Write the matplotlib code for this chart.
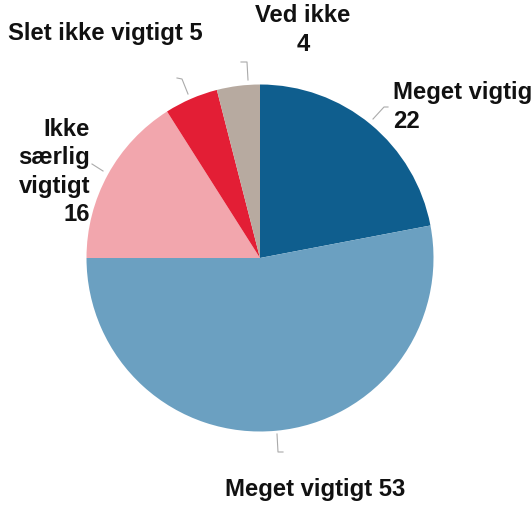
import matplotlib
matplotlib.use("Agg")
import matplotlib.pyplot as plt

plt.rcParams["font.family"] = ["Liberation Sans", "DejaVu Sans"]

# answers, clockwise from 12 o'clock
categories = ["Meget vigtig", "Meget vigtigt", "Ikke særlig vigtigt", "Slet ikke vigtigt", "Ved ikke"]
values = [22, 53, 16, 5, 4]
colors = ["#0f5e8e", "#6ba0c1", "#f2a6ad", "#e31e35", "#b7aaa0"]

# label text as shown in the chart (the first one is cut off at the edge)
label_texts = ["Meget vigtig\n22", "Meget vigtigt 53", "Ikke\nsærlig\nvigtigt\n16",
               "Slet ikke vigtigt 5", "Ved ikke\n4"]

W, H = 532, 506


def px(x, y):
    # pixel coords (top-left origin) -> data coords
    return x, H - y


fig = plt.figure(figsize=(W / 100, H / 100), dpi=100)
ax = fig.add_axes([0, 0, 1, 1])

ax.pie(values, colors=colors, startangle=90, counterclock=False,
       center=px(260, 259), radius=173.5,
       wedgeprops=dict(linewidth=0))
ax.set_xlim(0, W)
ax.set_ylim(0, H)
ax.set_aspect("equal")
ax.axis("off")

# label placement (pixel positions)
label_pos = [(393, 107, "left"), (315, 490, "center"), (90, 172, "right"),
             (203, 33, "right"), (303, 30, "center")]
for text, (x, y, ha) in zip(label_texts, label_pos):
    ax.text(*px(x, y), text, ha=ha, va="center", fontsize=17.2,
            fontweight="bold", color="#111111", linespacing=1.3)

# leader lines
leaders = [
    [(373, 120), (384, 108), (388, 108)],
    [(277, 435), (278, 453), (283, 453)],
    [(103, 172), (92, 165)],
    [(188, 95), (182, 80), (177, 79)],
    [(248, 81), (247, 63), (241, 63)],
]
for pts in leaders:
    xs = [p[0] for p in pts]
    ys = [H - p[1] for p in pts]
    ax.plot(xs, ys, color="#aaaaaa", linewidth=0.8)

fig.savefig("out.png", dpi=100)
